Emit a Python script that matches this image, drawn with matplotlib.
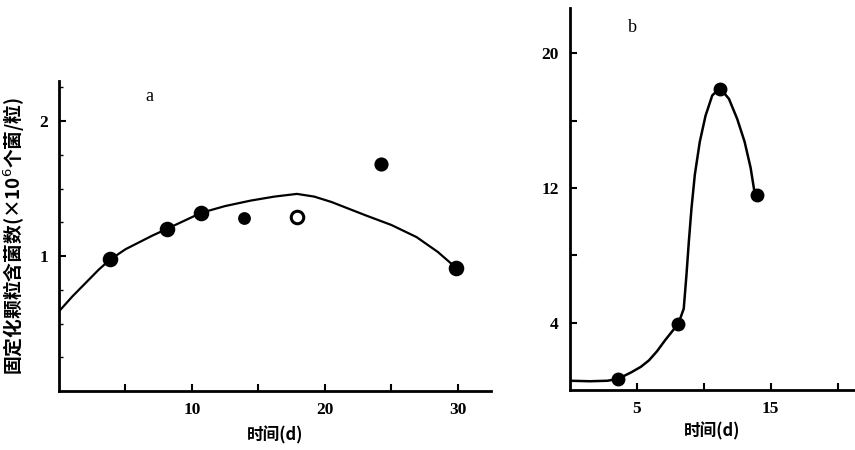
import matplotlib
matplotlib.use("Agg")
import matplotlib.pyplot as plt

plt.rcParams['font.family'] = ['Noto Sans CJK SC', 'DejaVu Sans']

a_days = [3.8, 8.1, 10.7, 13.9, 17.9, 24.2, 29.9]
a_cells = [0.98, 1.20, 1.32, 1.28, 1.29, 1.68, 0.91]
a_curve_x = [0, 1.0, 2.0, 3.0, 3.8, 5.0, 6.0, 7.0, 8.1, 9.4, 10.7, 12.5, 14.4, 16.2, 17.9,
             19.2, 20.5, 21.8, 23.1, 25.0, 26.9, 28.5, 29.9]
a_curve_y = [0.59, 0.70, 0.80, 0.90, 0.97, 1.05, 1.10, 1.15, 1.20, 1.26, 1.32, 1.37, 1.41,
             1.44, 1.46, 1.44, 1.40, 1.35, 1.30, 1.23, 1.14, 1.03, 0.91]

# panel b
b_days = [3.6, 8.1, 11.2, 13.95]
b_cells = [0.66, 3.94, 17.9, 11.6]
b_curve_x = [0, 1.5, 2.8, 3.6, 4.6, 5.3, 5.9, 6.5, 7.1, 7.6, 8.1, 8.5, 8.7, 8.88, 9.08, 9.33,
             9.7, 10.13, 10.63, 11.2, 11.88, 12.5, 13.05, 13.5, 13.8]
b_curve_y = [0.55, 0.52, 0.55, 0.66, 1.06, 1.38, 1.76, 2.3, 2.95, 3.45, 3.94, 4.83, 6.8, 8.8,
             10.8, 12.8, 14.75, 16.3, 17.5, 17.95, 17.3, 16.1, 14.75, 13.2, 11.7]

a_xticks = [5, 10, 15, 20, 25, 30]
a_xlabels = ['', '10', '', '20', '', '30']
a_yticks = [1, 2]
a_ylabels = ['1', '2']
b_xticks = [5, 10, 15, 20]
b_xlabels = ['5', '', '15', '']
b_yticks = [4, 8, 12, 16, 20]
b_ylabels = ['4', '', '12', '', '20']

num_font = dict(family='Liberation Serif', fontweight='bold', fontsize=12.5)

fig = plt.figure(figsize=(8.55, 4.5), dpi=100)

ax1 = fig.add_axes([59 / 855, 59 / 450, 432 / 855, 310.5 / 450])
ax2 = fig.add_axes([570 / 855, 60 / 450, 285 / 855, 382 / 450])

for ax in (ax1, ax2):
    ax.spines['top'].set_visible(False)
    ax.spines['right'].set_visible(False)
    ax.spines['left'].set_linewidth(2)
    ax.spines['bottom'].set_linewidth(2)
    ax.tick_params(direction='in', length=5, width=1.5, pad=8)

# panel a
ax1.plot(a_curve_x, a_curve_y, color='black', lw=1.6, solid_joinstyle='round')
sizes = [9, 9, 9, 7, 9, 8, 9]
faces = ['black', 'black', 'black', 'black', 'white', 'black', 'black']
for x, y, s, f in zip(a_days, a_cells, sizes, faces):
    ax1.plot(x, y, 'o', ms=s, mfc=f, mec='black', mew=2.2)
ax1.set_xlim(0, 32.5)
ax1.set_ylim(0, 2.3)
ax1.set_xticks(a_xticks)
ax1.set_xticklabels(a_xlabels, **num_font)
ax1.set_yticks(a_yticks)
ax1.set_yticklabels(a_ylabels, **num_font)
ax1.set_yticks([0.25, 0.5, 0.75, 1.25, 1.5, 1.75, 2.25], minor=True)
ax1.tick_params(which='minor', direction='in', length=3, width=1)
ax1.text(6.5, 2.15, 'a', fontsize=13, family='Liberation Serif')
ax1.set_xlabel('时间(d)', fontsize=12, fontweight='bold', labelpad=6)
ax1.set_ylabel('固定化颗粒含菌数(×10$^6$个菌/粒)', fontsize=13.5,
               fontweight='bold')
ax1.yaxis.set_label_coords(-0.075, 0.50)

# panel b
ax2.plot(b_curve_x, b_curve_y, color='black', lw=1.8, solid_joinstyle='round')
ax2.plot(b_days, b_cells, 'o', ms=9, color='black')
ax2.set_xlim(0, 21.3)
ax2.set_ylim(0, 22.7)
ax2.set_xticks(b_xticks)
ax2.set_xticklabels(b_xlabels, **num_font)
ax2.set_yticks(b_yticks)
ax2.set_yticklabels(b_ylabels, **num_font)
ax2.text(4.3, 21.3, 'b', fontsize=13, family='Liberation Serif')
ax2.set_xlabel('时间(d)', fontsize=12, fontweight='bold', labelpad=4)

fig.savefig('out.png', dpi=100)
